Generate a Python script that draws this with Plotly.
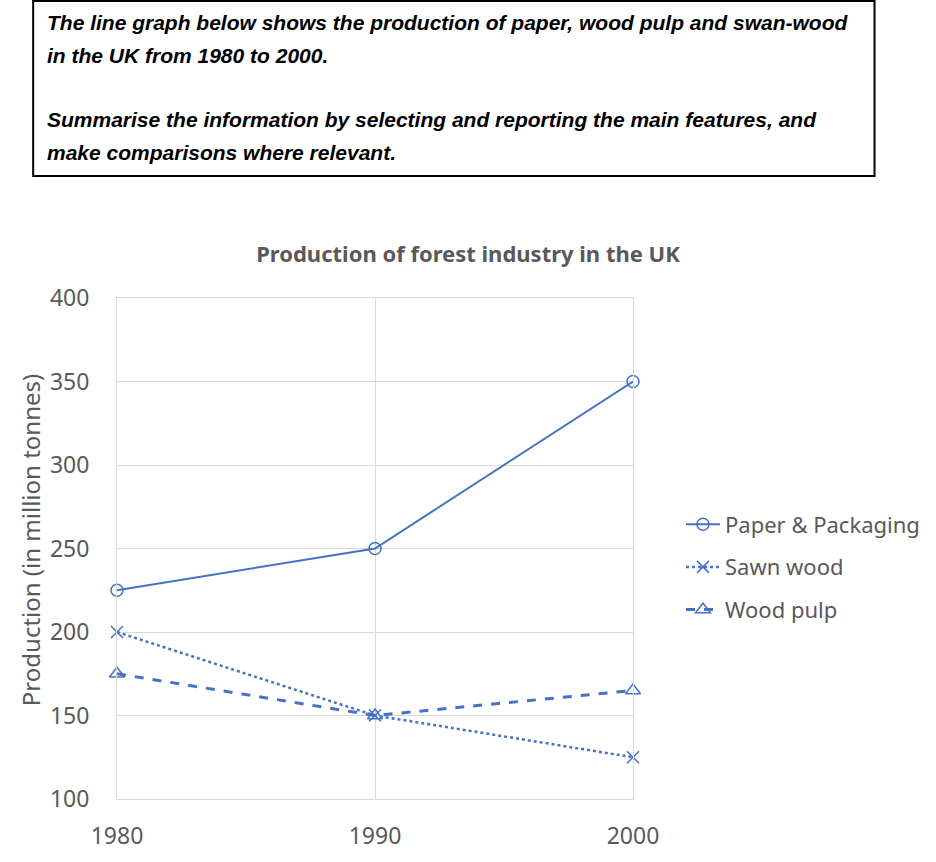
import plotly.graph_objects as go

years = [1980, 1990, 2000]
paper = [225, 250, 350]
sawn = [200, 150, 125]
pulp = [175, 150, 165]
series_names = ["Paper & Packaging", "Sawn wood", "Wood pulp"]
y_ticks = [100, 150, 200, 250, 300, 350, 400]

BLUE = "#4472C4"
GRAY = "#595959"
GRID = "#D9D9D9"
FONT = "Noto Sans, Open Sans, sans-serif"

L, R, T, B = 117, 634, 298, 799
W, H = 936, 862
PW, PH = R - L, B - T


def px(x):
    return (x - L) / PW


def py(y):
    return (B - y) / PH


fig = go.Figure()
fig.add_trace(go.Scatter(x=years, y=paper, name=series_names[0], mode="lines+markers",
                         line=dict(color=BLUE, width=2),
                         marker=dict(symbol="circle-open", size=12, color=BLUE, line=dict(width=1.5)),
                         cliponaxis=False, legendgroup="a"))
fig.add_trace(go.Scatter(x=years, y=sawn, name=series_names[1], mode="lines+markers",
                         line=dict(color=BLUE, width=2.5, dash="dot"),
                         marker=dict(symbol="x-thin-open", size=12, color=BLUE, line=dict(width=1.5, color=BLUE)),
                         cliponaxis=False, legendgroup="b"))
fig.add_trace(go.Scatter(x=years, y=pulp, name=series_names[2], mode="lines+markers",
                         line=dict(color=BLUE, width=3, dash="dash"),
                         marker=dict(symbol="triangle-up-open", size=13, color=BLUE, line=dict(width=1.5)),
                         cliponaxis=False, legendgroup="c"))

# question box
fig.add_shape(type="rect", xref="paper", yref="paper",
              x0=px(33), x1=px(876), y0=py(176), y1=py(1),
              line=dict(color="black", width=2), fillcolor="rgba(0,0,0,0)")
lines = [
    ("The line graph below shows the production of paper, wood pulp and swan-wood", 22),
    ("in the UK from 1980 to 2000.", 55),
    ("Summarise the information by selecting and reporting the main features, and", 120),
    ("make comparisons where relevant.", 153),
]
for txt, yy in lines:
    fig.add_annotation(text="<b><i>" + txt + "</i></b>", xref="paper", yref="paper",
                       x=px(45), y=py(yy), xanchor="left", yanchor="middle", showarrow=False,
                       font=dict(family="Liberation Sans Narrow, Arial Narrow, sans-serif", size=21, color="black"))

# y-axis title
fig.add_annotation(text="Production (in million tonnes)", xref="paper", yref="paper",
                   x=px(30), y=py(540), textangle=-90, showarrow=False,
                   xanchor="center", yanchor="middle",
                   font=dict(family=FONT, size=24, color=GRAY))

fig.update_layout(
    width=W, height=H,
    margin=dict(l=L, r=W - R, t=T, b=H - B),
    paper_bgcolor="white", plot_bgcolor="white",
    title=dict(text="<b>Production of forest industry in the UK</b>", x=468 / W, xanchor="center",
               y=1 - 254 / H, yanchor="middle", font=dict(family=FONT, size=22, color=GRAY)),
    showlegend=True,
    legend=dict(x=px(681), y=py(567), xanchor="left", yanchor="middle",
                font=dict(family=FONT, size=22, color=GRAY), tracegroupgap=11,
                traceorder="grouped", itemwidth=34, bgcolor="rgba(0,0,0,0)"),
    xaxis=dict(range=[1980, 2000], tickvals=years, ticktext=[str(y) for y in years],
               showgrid=True, gridcolor=GRID, gridwidth=1, showline=True, linecolor=GRID,
               mirror=True, zeroline=False, ticks="", ticklabelstandoff=16,
               tickfont=dict(family=FONT, size=23, color=GRAY)),
    yaxis=dict(range=[100, 400], tickvals=y_ticks, showgrid=True, gridcolor=GRID, gridwidth=1,
               showline=True, linecolor=GRID, mirror=True, zeroline=False, ticks="",
               ticklabelstandoff=22, tickfont=dict(family=FONT, size=23, color=GRAY)),
)

fig.write_html("out.html")
